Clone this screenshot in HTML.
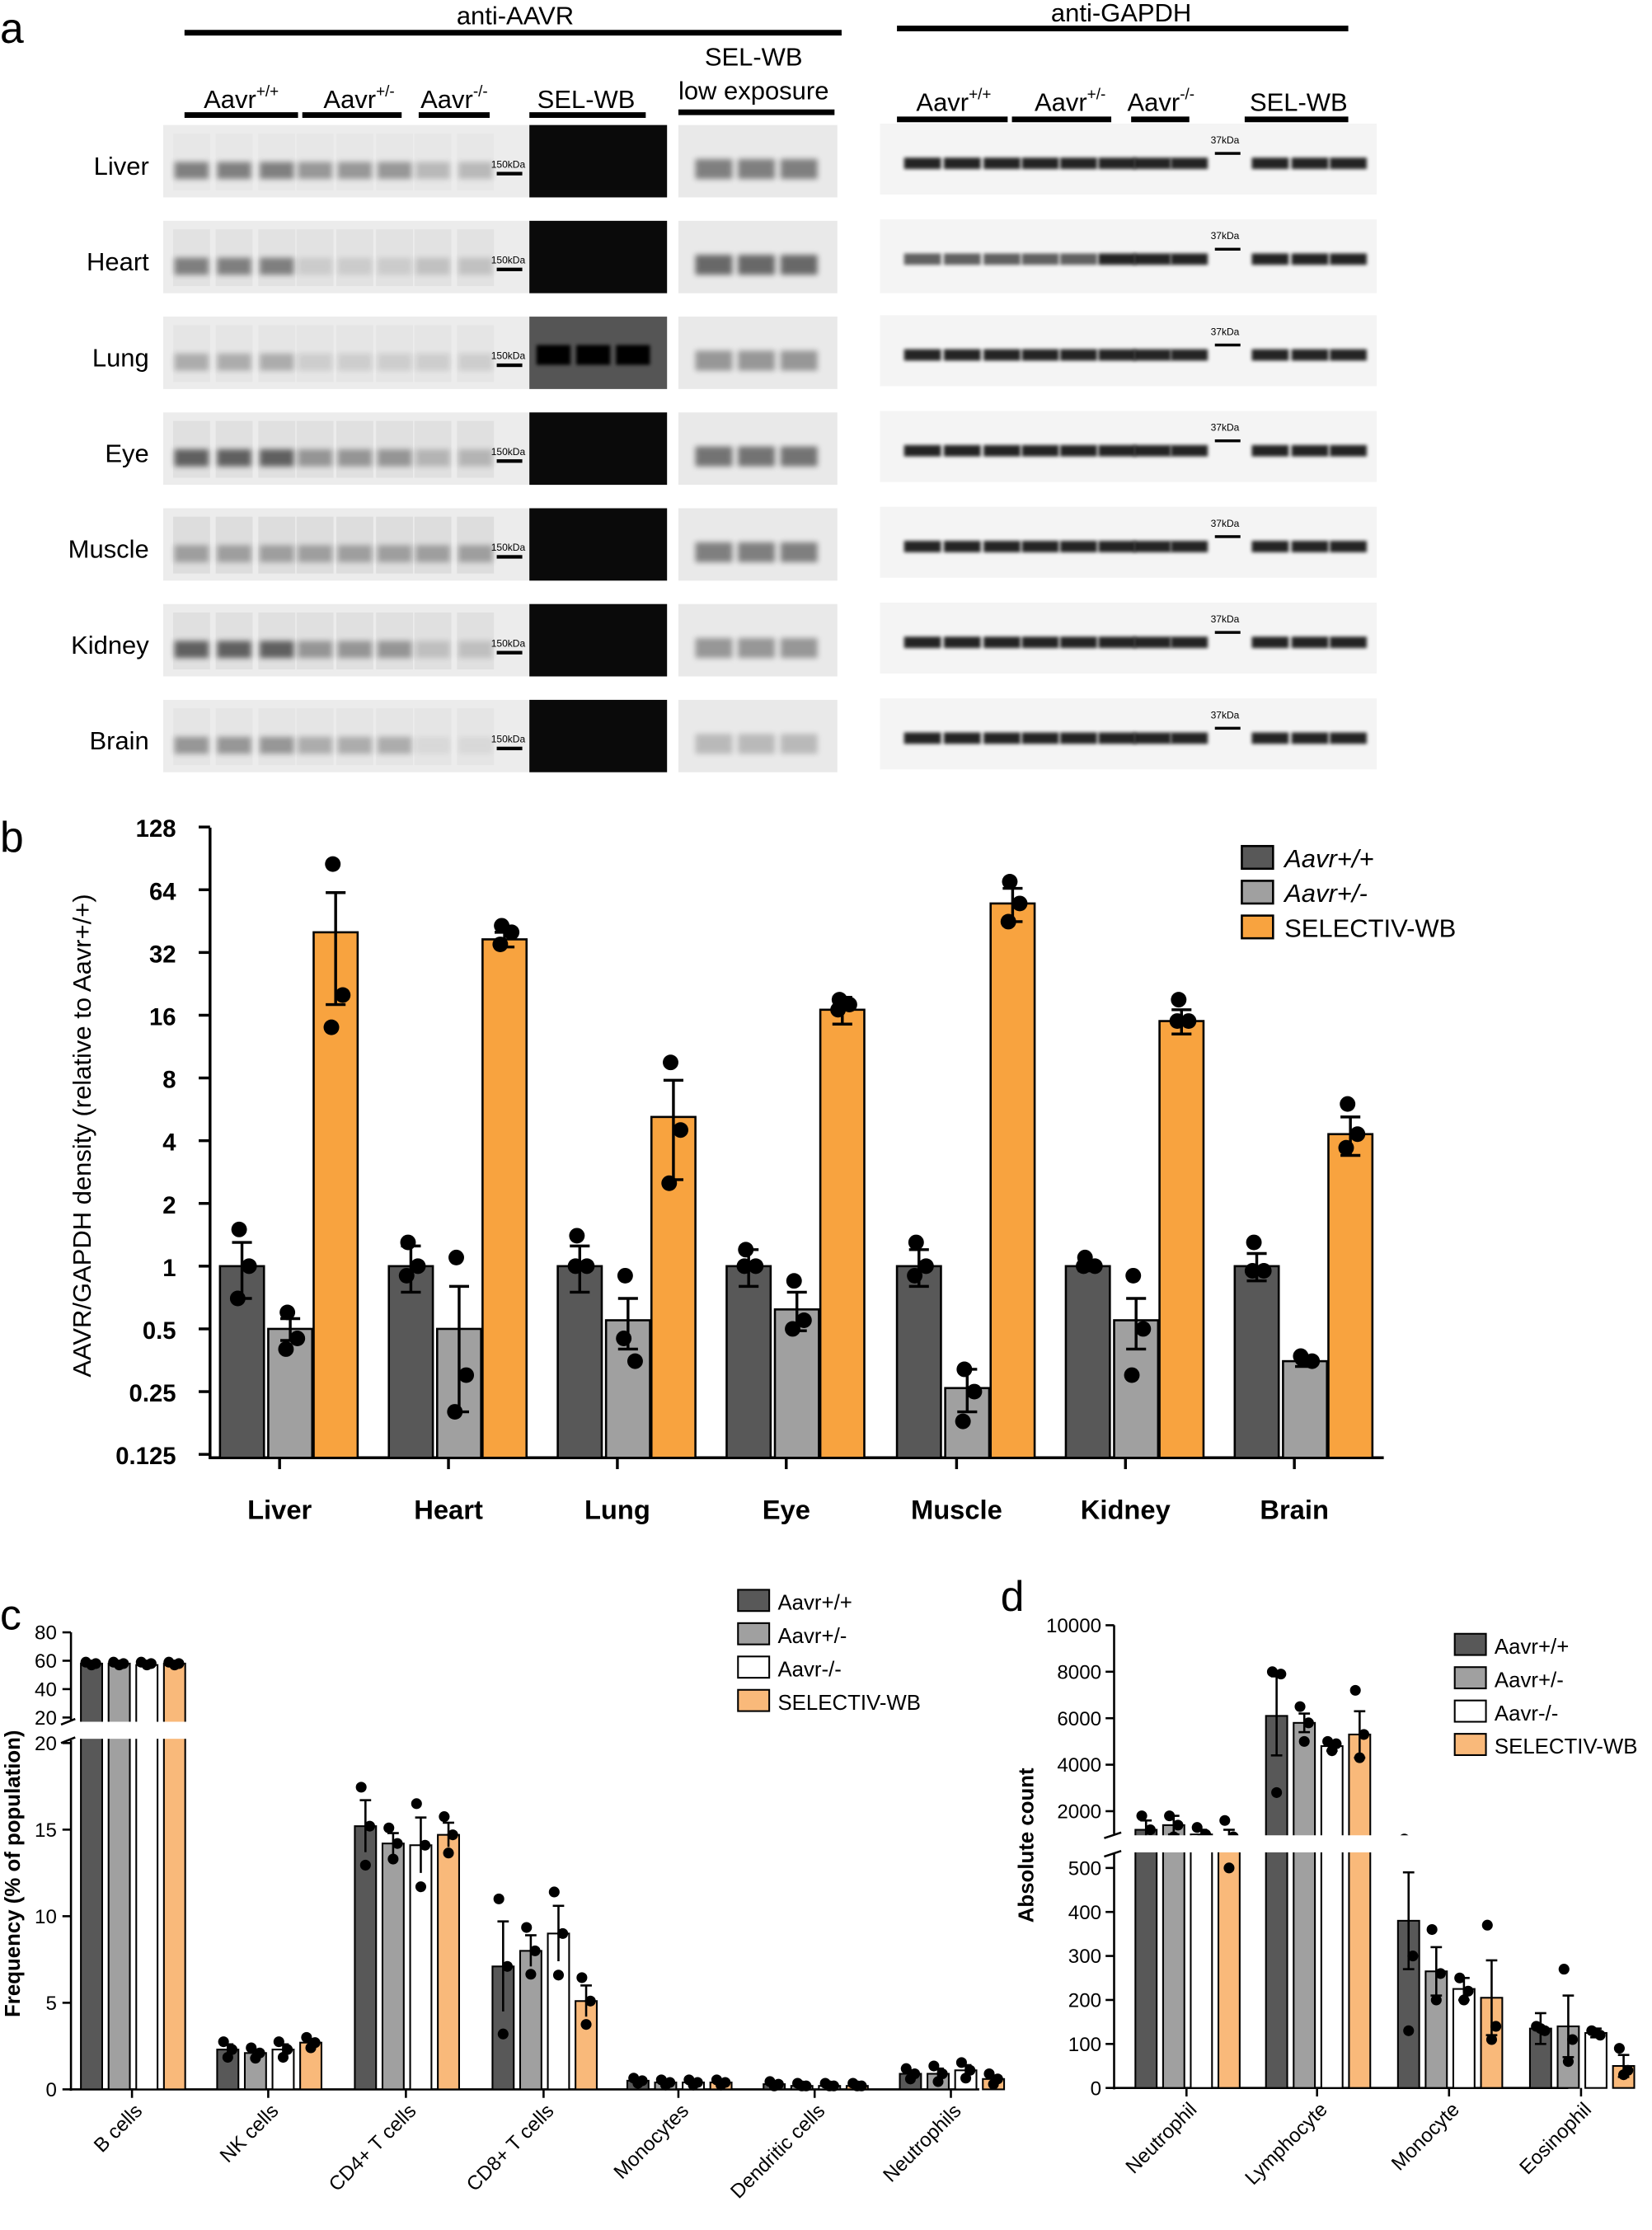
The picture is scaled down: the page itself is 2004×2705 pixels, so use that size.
<!DOCTYPE html>
<html><head><meta charset="utf-8"><style>
html,body{margin:0;padding:0;background:#fff}
svg{display:block}
text{font-family:"Liberation Sans",sans-serif}
</style></head><body>
<svg id="s" width="2004" height="2705" viewBox="0 0 1164 1571" xmlns="http://www.w3.org/2000/svg">
<defs>
<filter id="bl" x="-20%" y="-50%" width="140%" height="200%"><feGaussianBlur stdDeviation="2"/></filter>
<filter id="bl2" x="-20%" y="-50%" width="140%" height="200%"><feGaussianBlur stdDeviation="1.2"/></filter>
</defs>
<g id="g"></g>
</svg>
<script>
const G=document.getElementById('g');let H='';
function R(x,y,w,h,f,extra){H+=`<rect x="${x}" y="${y}" width="${w}" height="${h}" fill="${f}" ${extra||''}/>`;}
function L(x1,y1,x2,y2,w,c){H+=`<line x1="${x1}" y1="${y1}" x2="${x2}" y2="${y2}" stroke="${c||'#000'}" stroke-width="${w}"/>`;}
function T(x,y,s,sz,a,extra){H+=`<text x="${x}" y="${y}" font-size="${sz}" text-anchor="${a||'start'}" ${extra||''}>${s}</text>`;}
function C(x,y,r){H+=`<circle cx="${x}" cy="${y}" r="${r||5}" fill="#000"/>`;}
// ---- panel a ----
T(0,30,'a',30);
T(363,17,'anti-AAVR',18,'middle');L(130,23,593,23,4);
T(790,15,'anti-GAPDH',18,'middle');L(632,20,950,20,4);
const sup=(b,s,x,y)=>T(x,y,`${b}<tspan font-size="11" dy="-8">${s}</tspan>`,18,'middle');
sup('Aavr','+/+',170,76);L(130,81,210,81,4);
sup('Aavr','+/-',253,76);L(213,81,283,81,4);
sup('Aavr','-/-',320,76);L(295,81,345,81,4);
T(413,76,'SEL-WB',18,'middle');L(373,81,455,81,4);
T(531,46,'SEL-WB',18,'middle');T(531,70,'low exposure',18,'middle');L(478,79,588,79,4);
sup('Aavr','+/+',672,78);L(632,84,710,84,4);
sup('Aavr','+/-',754,78);L(713,84,783,84,4);
sup('Aavr','-/-',818,78);L(797,84,838,84,4);
T(915,78,'SEL-WB',18,'middle');L(877,84,950,84,4);
const tissues=['Liver','Heart','Lung','Eye','Muscle','Kidney','Brain'];
const leftL=[135,165,195,222,250,278,305,335];
const selL=[390,418,446];const lowL=[503,533,563];
const rL=[650,678,706,733,760,787,812,838];const rS=[895,923,950];
const wt=[[.45,.35,.2,.1],[.45,.1,.15,.2],[.25,.1,.1,.15],[.6,.35,.2,.25],[.3,.3,.3,.3],[.6,.35,.15,.25],[.35,.25,.05,.15]];
const low=[.45,.55,.35,.5,.45,.35,.2];
tissues.forEach((t,i)=>{
 const y=88+i*67.5;
 T(105,y+35,t,18,'end');
 R(115,y,355,51,'#ececec');R(478,y,112,51,'#e9e9e9');R(620,y-1,350,i==1?52:50,'#f4f4f4');
 const bandY=y+32;
 leftL.forEach((x,j)=>{const o=j<3?wt[i][0]:j<6?wt[i][1]:wt[i][2];
  H+=`<rect x="${x-12}" y="${bandY-6}" width="24" height="12" fill="#000" opacity="${o}" filter="url(#bl)"/>`;
  H+=`<rect x="${x-13}" y="${y+6}" width="26" height="40" fill="#777" opacity="${wt[i][3]*0.4}"/>`;});
 R(350,y+40-7,18,2.5,'#000');T(346,y+30,'150kDa',7,'start');
 R(373,y,97,51,i==2?'#555':'#0a0a0a');
 if(i==2){selL.forEach(x=>{H+=`<rect x="${x-12}" y="${y+20}" width="24" height="14" fill="#000" filter="url(#bl2)"/>`;});}
 lowL.forEach(x=>{H+=`<rect x="${x-13}" y="${bandY-8}" width="26" height="14" fill="#000" opacity="${low[i]}" filter="url(#bl)"/>`;});
 const gy=y+27;
 rL.forEach((x,j)=>{const o=(i==1&&j<5)?.6:.85;H+=`<rect x="${x-13}" y="${gy-4}" width="26" height="8" fill="#000" opacity="${o}" filter="url(#bl2)"/>`;});
 rS.forEach(x=>{H+=`<rect x="${x-13}" y="${gy-4}" width="26" height="8" fill="#000" opacity=".85" filter="url(#bl2)"/>`;});
 R(856,gy-8,18,2,'#000');T(853,gy-14,'37kDa',7);
});
// ---- panel b ----
T(0,600,'b',30);
const yb=v=>892-44.2*Math.log2(v);
L(148,583,148,1028,2);L(147,1027,975,1027,2);
[[128,'128'],[64,'64'],[32,'32'],[16,'16'],[8,'8'],[4,'4'],[2,'2'],[1,'1'],[.5,'0.5'],[.25,'0.25'],[.125,'0.125']].forEach(([v,s])=>{const y=yb(v);L(140,y,148,y,2);T(124,y+7,s,17,'end','font-weight="bold"');});
H+=`<text transform="translate(64,800) rotate(-90)" font-size="18" text-anchor="middle">AAVR/GAPDH density (relative to Aavr+/+)</text>`;
const bc=['#585858','#a0a0a0','#f8a33f'];
const bv=[[1,.5,40],[1,.5,37],[1,.55,5.2],[1,.62,17],[1,.26,55],[1,.55,15],[1,.35,4.3]];
const be=[[.3,.06,22],[.25,.3,3],[.25,.15,2.6],[.2,.13,2.5],[.2,.06,10],[.05,.15,2],[.15,.02,.9]];
const bd=[[[1.5,1,.7],[.6,.45,.4],[85,20,14]],[[1.3,1,.9],[1.1,.3,.2],[43,40,35]],[[1.4,1,1],[.9,.35,.45],[9.5,4.5,2.5]],[[1.2,1,1],[.85,.55,.5],[19,18,17]],[[1.3,1,.9],[.32,.25,.18],[70,55,45]],[[1.1,1,1],[.9,.5,.3],[19,15,15]],[[1.3,.95,.95],[.36,.35,.37],[6,4.3,3.7]]];
['Liver','Heart','Lung','Eye','Muscle','Kidney','Brain'].forEach((t,i)=>{
 const c=[197,316,435,554,674,793,912][i];
 [-42,-8,24].forEach((o,k)=>{const v=bv[i][k],y=yb(v),x=c+o,w=31;
  R(x,y,w,1027-y,bc[k],'stroke="#000" stroke-width="1.5"');
  const e=be[i][k],y1=yb(v+e),y2=yb(Math.max(v-e,0.13));const mx=x+w/2;
  L(mx,y1,mx,y2,2);L(mx-7,y1,mx+7,y1,2);L(mx-7,y2,mx+7,y2,2);
  bd[i][k].forEach((d,m)=>C(mx+[-2,5,-3][m],yb(d),5.5));
 });
 L(c,1027,c,1035,2);T(c,1070,t,19,'middle','font-weight="bold"');
});
[['<tspan font-style="italic">Aavr+/+</tspan>',bc[0]],['<tspan font-style="italic">Aavr+/-</tspan>',bc[1]],['SELECTIV-WB',bc[2]]].forEach(([s,c],i)=>{const y=604+i*24.5;R(875,y-8,22,16,c,'stroke="#000" stroke-width="1.5"');T(905,y+7,s,18);});
// ---- panel c ----
T(0,1148,'c',30);
const cc=['#585858','#a0a0a0','#fff','#f9b97a'];
const yl=v=>1472-v*12.2;const yu=v=>1210-(v-20)*1;
L(50,1150,50,1212,1.5);L(50,1226,50,1473,1.5);L(49,1472,690,1472,1.5);
[[80,'80'],[60,'60'],[40,'40'],[20,'20']].forEach(([v,s])=>{const y=yu(v);L(44,y,50,y,1.5);T(40,y+5,s,14,'end');});
[[20,'20'],[15,'15'],[10,'10'],[5,'5'],[0,'0']].forEach(([v,s])=>{const y=yl(v);L(44,y,50,y,1.5);T(40,y+5,s,14,'end');});
H+=`<text transform="translate(14,1320) rotate(-90)" font-size="15" font-weight="bold" text-anchor="middle">Frequency (% of population)</text>`;
const cg=['B cells','NK cells','CD4+ T cells','CD8+ T cells','Monocytes','Dendritic cells','Neutrophils'];
const cs=[57,153,250,347,442,538,634];
const cv=[[58,58,57,58],[2.3,2.1,2.3,2.7],[15.2,14.2,14.1,14.7],[7.1,8,9,5.1],[.5,.4,.4,.4],[.3,.2,.2,.2],[.9,.9,1.1,.6]];
const ce=[[1,1,1,1],[.3,.2,.3,.2],[1.5,.6,1.6,.7],[2.6,.9,1.6,.9],[.1,.1,.1,.1],[.1,.1,.1,.1],[.2,.3,.3,.2]];
cg.forEach((t,i)=>{cv[i].forEach((v,k)=>{const x=cs[i]+k*19.5,w=15;let y=i==0?yu(v):yl(v);
  R(x,y,w,1472-y,cc[k],'stroke="#000" stroke-width="1.2"');const mx=x+w/2;
  if(i>0){const e=ce[i][k];L(mx,yl(v+e),mx,yl(Math.max(v-e,0)),1.5);L(mx-4,yl(v+e),mx+4,yl(v+e),1.5);
   [v+e*1.5,v,v-e*1.5].forEach((d,m)=>C(mx+[-3,3,0][m],yl(Math.max(d,0.2)),3.8));}
  else{[59,58,57].forEach((d,m)=>C(mx+[-4,3,0][m],yu(d),3.8));}
 });
 const c=cs[i]+36;L(c,1472,c,1478,1.5);
 H+=`<text transform="translate(${c+8},1488) rotate(-45)" font-size="14" text-anchor="end">${t}</text>`;});
R(44,1213,95,12,'#fff');L(43,1215,53,1211,1.5);L(43,1228,53,1224,1.5);
['Aavr+/+','Aavr+/-','Aavr-/-','SELECTIV-WB'].forEach((s,i)=>{const y=1128+i*23.5;R(520,y-8,22,15,cc[i],'stroke="#000" stroke-width="1.2"');T(548,y+6,s,15);});
// ---- panel d ----
T(705,1135,'d',30);
const du=v=>1276-(v-2000)*32.75/2000;const dl=v=>1471-v*0.31;
L(785,1145,785,1292,1.5);L(785,1306,785,1472,1.5);L(784,1471,1105,1471,1.5);
[10000,8000,6000,4000,2000].forEach(v=>{const y=du(v);L(779,y,785,y,1.5);T(776,y+5,v,14,'end');});
[500,400,300,200,100,0].forEach(v=>{const y=dl(v);L(779,y,785,y,1.5);T(776,y+5,v,14,'end');});
H+=`<text transform="translate(728,1300) rotate(-90)" font-size="15" font-weight="bold" text-anchor="middle">Absolute count</text>`;
const dg=['Neutrophil','Lymphocyte','Monocyte','Eosinophil'];const dsx=[800,892,985,1078];
const dv=[[1200,1400,1000,900],[6100,5800,4800,5300],[380,265,225,205],[135,140,125,50]];
const de=[[400,400,200,300],[1700,400,200,1000],[110,55,25,85],[35,70,10,25]];
const dd=[[[1800,1200,700],[1800,1400,900],[1300,1000,800],[1600,900,500]],[[8000,7900,2800],[6500,5800,5000],[5000,4900,4600],[7200,5300,4300]],[[800,300,130],[360,260,200],[250,220,200],[370,140,110]],[[140,130,135],[270,110,60],[130,120,125],[90,40,30]]];
const dy=v=>v>500?du(v):dl(v);
dg.forEach((t,i)=>{dv[i].forEach((v,k)=>{const x=dsx[i]+k*19.5,w=15,y=dy(v);
  R(x,y,w,1471-y,cc[k],'stroke="#000" stroke-width="1.2"');const mx=x+w/2,e=de[i][k];
  L(mx,dy(v+e),mx,dy(Math.max(v-e,0)),1.5);L(mx-4,dy(v+e),mx+4,dy(v+e),1.5);L(mx-4,dy(v-e),mx+4,dy(v-e),1.5);
  dd[i][k].forEach((d,m)=>C(mx+[-3,3,0][m],dy(d),3.8));});
 const c=dsx[i]+36;L(c,1471,c,1477,1.5);
 H+=`<text transform="translate(${c+8},1487) rotate(-45)" font-size="14" text-anchor="end">${t}</text>`;});
R(779,1293,330,12,'#fff');L(778,1295,790,1291,1.5);L(778,1308,790,1304,1.5);
['Aavr+/+','Aavr+/-','Aavr-/-','SELECTIV-WB'].forEach((s,i)=>{const y=1159+i*23.5;R(1025,y-8,22,15,cc[i],'stroke="#000" stroke-width="1.2"');T(1053,y+6,s,15);});
G.innerHTML=H;
</script>
</body></html>
